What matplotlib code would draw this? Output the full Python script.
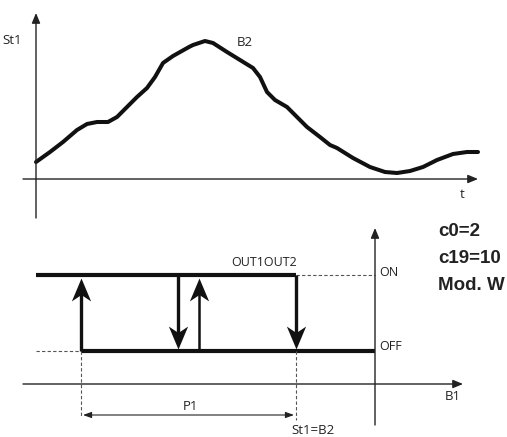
import matplotlib
matplotlib.use("Agg")
import matplotlib.pyplot as plt
from matplotlib.path import Path

# ---- data ----
# Top panel: probe temperature St1 over time t (origin at axes crossing)
curve_t = [0, 14, 27, 41, 51, 61, 72, 81, 91, 101, 111, 119, 127, 137, 153,
           157, 169, 177, 191, 204, 217, 224, 231, 239, 251, 261, 271, 284, 294,
           301, 317, 334, 349, 361, 374, 387, 401, 417, 431, 442]
curve_st1 = [17, 27, 37, 49, 55, 57, 57, 62, 72, 82, 91, 102, 116, 123, 132,
             134, 138, 136, 127, 119, 111, 102, 87, 79, 72, 62, 52, 42, 34,
             31, 21, 12, 7, 6, 8, 12, 19, 25, 27, 27]

# Bottom panel: hysteresis of outputs vs B1 (origin at axes crossing)
level_on = 109
level_off = 33
p1_start = -294
setpoint = -79
left_end = -339
switch_x = [-294, -197, -176, -79]
switch_dir = ["up", "down", "up", "down"]
params = ["c0=2", "c19=10", "Mod. W"]

W, H = 507, 437
fig = plt.figure(figsize=(W / 100, H / 100), dpi=100)
font = "Open Sans"

# stealth arrow-head markers (tip at marker origin)
up_head = Path([(0, 0), (-0.42, -1), (0, -0.72), (0.42, -1), (0, 0)],
               [Path.MOVETO, Path.LINETO, Path.LINETO, Path.LINETO, Path.CLOSEPOLY])
down_head = Path([(0, 0), (-0.42, 1), (0, 0.72), (0.42, 1), (0, 0)],
                 [Path.MOVETO, Path.LINETO, Path.LINETO, Path.LINETO, Path.CLOSEPOLY])

# ---------- top panel ----------
ax1 = fig.add_axes([0, 0, 1, 1])
ax1.set_xlim(-36, W - 36)
ax1.set_ylim(179 - H, 179)
ax1.axis("off")
ax1.annotate("", xy=(0, 166), xytext=(0, -39),
             arrowprops=dict(arrowstyle="-|>,head_length=0.6,head_width=0.25",
                             lw=1.0, color="#222", shrinkA=0, shrinkB=0))
ax1.annotate("", xy=(442, 0), xytext=(-13, 0),
             arrowprops=dict(arrowstyle="-|>,head_length=0.6,head_width=0.25",
                             lw=1.0, color="#222", shrinkA=0, shrinkB=0))
ax1.plot(curve_t, curve_st1, color="#111", lw=2.9, solid_joinstyle="round",
         solid_capstyle="round")
ax1.text(-24, 139, "St1", fontsize=9.5, family=font, ha="center", va="center", color="#222")
ax1.text(426, -16, "t", fontsize=9.5, family=font, ha="center", va="center", color="#222")
ax1.text(209, 137, "B2", fontsize=9.5, family=font, ha="center", va="center", color="#222")

# ---------- bottom panel ----------
ax2 = fig.add_axes([0, 0, 1, 1])
ax2.set_xlim(-375, W - 375)
ax2.set_ylim(384 - H, 384)
ax2.axis("off")
ax2.patch.set_alpha(0)
ax2.annotate("", xy=(0, 156), xytext=(0, -41),
             arrowprops=dict(arrowstyle="-|>,head_length=0.6,head_width=0.25",
                             lw=1.0, color="#222", shrinkA=0, shrinkB=0))
ax2.annotate("", xy=(88, 0), xytext=(-352, 0),
             arrowprops=dict(arrowstyle="-|>,head_length=0.6,head_width=0.25",
                             lw=1.0, color="#222", shrinkA=0, shrinkB=0))

ax2.plot([left_end, setpoint], [level_on, level_on], color="#111", lw=3, solid_capstyle="butt")
ax2.plot([p1_start, 0], [level_off, level_off], color="#111", lw=3, solid_capstyle="butt")
ax2.plot([setpoint, 0], [level_on, level_on], color="#555", lw=0.8, ls=(0, (3, 2)))
ax2.plot([left_end, p1_start], [level_off, level_off], color="#555", lw=0.8, ls=(0, (3, 2)))
ax2.plot([p1_start, p1_start], [level_off, -33], color="#555", lw=0.8, ls=(0, (3, 2)))
ax2.plot([setpoint, setpoint], [level_off, -36], color="#555", lw=0.8, ls=(0, (3, 2)))

for i, (x, d) in enumerate(zip(switch_x, switch_dir)):
    lw = 1.8 if i == 2 else 2.4
    if d == "up":
        start, end, head = level_off, level_on - 3, up_head
        stem_end = end - 14
    else:
        start, end, head = level_on, level_off + 2, down_head
        stem_end = end + 14
    ax2.plot([x, x], [start, stem_end], color="#111", lw=lw, solid_capstyle="butt")
    ax2.plot([x], [end], marker=head, markersize=33, color="#111",
             markeredgewidth=0, linestyle="none")

ax2.annotate("", xy=(setpoint - 2, -31), xytext=(p1_start + 2, -31),
             arrowprops=dict(arrowstyle="<|-|>,head_length=0.5,head_width=0.18",
                             lw=0.8, color="#222", shrinkA=0, shrinkB=0))

ax2.text(-185, -23, "P1", fontsize=9.5, family=font, ha="center", va="center", color="#222")
ax2.text(-62, -46, "St1=B2", fontsize=9.5, family=font, ha="center", va="center", color="#222")
ax2.text(-111, 121, "OUT1OUT2", fontsize=9, family=font, ha="center", va="center", color="#222")
ax2.text(4, 112, "ON", fontsize=9, family=font, ha="left", va="center", color="#222")
ax2.text(4, 38, "OFF", fontsize=9, family=font, ha="left", va="center", color="#222")
ax2.text(78, -13, "B1", fontsize=9.5, family=font, ha="center", va="center", color="#222")

for j, p in enumerate(params):
    ax2.text(63, 152 - j * 26.5, p, fontsize=13.5, family="Liberation Sans",
             fontweight="bold", ha="left", va="center", color="#222")

fig.savefig("out.png", dpi=100)
